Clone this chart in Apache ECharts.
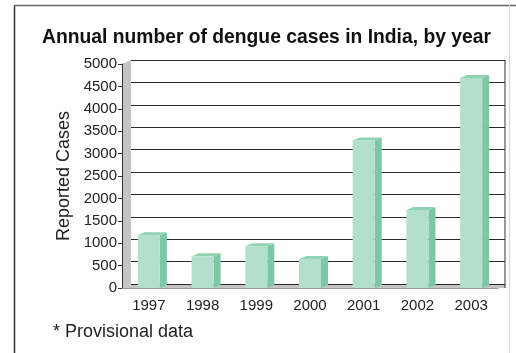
<!DOCTYPE html>
<html>
<head>
<meta charset="utf-8">
<script src="https://cdn.jsdelivr.net/npm/echarts@6/dist/echarts.min.js"></script>
<style>
  html, body { margin: 0; padding: 0; background: #fff; }
  #chart { width: 516px; height: 353px; }
</style>
</head>
<body>
<div id="chart"></div>
<script>
var years = ['1997', '1998', '1999', '2000', '2001', '2002', '2003'];
var cases = [1180, 710, 930, 650, 3290, 1740, 4690];
var yTicks = [0, 5000, 500]; // min, max, step

// plot box (front plane) and depth of the fake 3D
var L = 122, T = 64, R = 498, B = 288;
var DX = 9, DY = -4;
var font = 'Liberation Sans, Arial, sans-serif';

var chart = echarts.init(document.getElementById('chart'));

function bar3d(params, api) {
  var top = api.coord([api.value(0), api.value(1)]);
  var base = api.coord([api.value(0), 0]);
  var w = api.size([1, 0])[0] * 0.41;
  var x0 = top[0] - w / 2, x1 = top[0] + w / 2;
  var dx = 7, dy = -3;
  return {
    type: 'group',
    children: [
      { type: 'polygon', shape: { points: [[x1, top[1]], [x1 + dx, top[1] + dy], [x1 + dx, base[1] + dy], [x1, base[1]]] },
        style: { fill: '#7cc8a4' } },
      { type: 'polygon', shape: { points: [[x0, top[1]], [x0 + dx, top[1] + dy], [x1 + dx, top[1] + dy], [x1, top[1]]] },
        style: { fill: '#8fd3b2' } },
      { type: 'rect', shape: { x: x0, y: top[1], width: w, height: base[1] - top[1] },
        style: { fill: '#b3e0ca' } }
    ]
  };
}

chart.setOption({
  animation: false,
  textStyle: { fontFamily: font },
  title: {
    text: 'Annual number of dengue cases in India, by year',
    left: 37, top: 23,
    textStyle: { fontSize: 19.3, fontWeight: 'bold', color: '#111', fontFamily: font }
  },
  grid: [
    { left: L, top: T, width: R - L, height: B - T },
    { left: L + DX, top: T + DY, width: 505 - L - DX, height: B - T }
  ],
  xAxis: [
    {
      type: 'category', data: years, gridIndex: 0,
      axisLine: { lineStyle: { color: '#999' } },
      axisTick: { length: 4, lineStyle: { color: '#333' } },
      axisLabel: { fontSize: 15, color: '#222', margin: 10 }
    },
    { type: 'category', data: years, gridIndex: 1, show: false }
  ],
  yAxis: [
    {
      type: 'value', gridIndex: 0, min: yTicks[0], max: yTicks[1], interval: yTicks[2],
      name: 'Reported Cases', nameLocation: 'middle', nameGap: 41,
      nameTextStyle: { fontSize: 18, color: '#222' },
      axisLine: { show: true, lineStyle: { color: '#333' } },
      axisTick: { show: true, length: 4, lineStyle: { color: '#333' } },
      axisLabel: { fontSize: 15, color: '#222', margin: 5, formatter: function (v) { return String(v); } },
      splitLine: { show: false }
    },
    {
      type: 'value', gridIndex: 1, min: yTicks[0], max: yTicks[1], interval: yTicks[2],
      axisLine: { show: false }, axisTick: { show: false }, axisLabel: { show: false },
      splitLine: { show: true, lineStyle: { color: '#2a2a2a', width: 1 } }
    }
  ],
  graphic: [
    // outer frame
    { type: 'line', shape: { x1: 14.5, y1: 5, x2: 14.5, y2: 353 }, style: { stroke: '#333', lineWidth: 1.5 }, z: 0 },
    { type: 'line', shape: { x1: 14, y1: 5.5, x2: 516, y2: 5.5 }, style: { stroke: '#666', lineWidth: 1.5 }, z: 0 },
    { type: 'line', shape: { x1: 509.5, y1: 5, x2: 509.5, y2: 353 }, style: { stroke: '#d4d4d4', lineWidth: 1 }, z: 0 },
    // left wall and floor
    { type: 'polygon', shape: { points: [[L, T], [L + DX, T + DY], [L + DX, B + DY], [L, B]] },
      style: { fill: '#c4c4c4' }, z: 0 },
    { type: 'polygon', shape: { points: [[L, B], [L + DX, B + DY], [505, B + DY], [505, B]] },
      style: { fill: '#c4c4c4' }, z: 0 },
    // back wall right edge
    { type: 'line', shape: { x1: 505, y1: T + DY, x2: 505, y2: B }, style: { stroke: '#333', lineWidth: 1 }, z: 1 },
    // footnote
    { type: 'text', left: 53, top: 323, style: { text: '* Provisional data', fontSize: 18, fill: '#222', fontFamily: font } }
  ],
  series: [
    {
      type: 'custom', xAxisIndex: 0, yAxisIndex: 0, z: 5,
      renderItem: bar3d,
      encode: { x: 0, y: 1 },
      data: cases.map(function (v, i) { return [i, v]; })
    }
  ]
});
</script>
</body>
</html>
